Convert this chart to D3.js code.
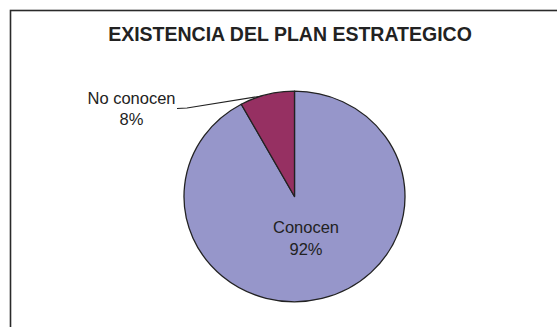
<!DOCTYPE html>
<html>
<head>
<meta charset="utf-8">
<script src="https://cdn.jsdelivr.net/npm/d3@7"></script>
<style>
  html, body { margin: 0; padding: 0; background: #fff; }
  svg { display: block; }
  text { font-family: "Liberation Sans", Arial, sans-serif; fill: #222; }
</style>
</head>
<body>
<svg id="chart" width="557" height="327"></svg>
<script>
// Survey answers: does the staff know the strategic plan?
const categories = ["Conocen", "No conocen"];
const values = [92, 8];
const colors = ["#9696CA", "#963062"];
const title = "EXISTENCIA DEL PLAN ESTRATEGICO";

const svg = d3.select("#chart");

// Chart frame (runs past the right and bottom edges)
svg.append("rect")
  .attr("x", 10.5).attr("y", 10.5)
  .attr("width", 600).attr("height", 400)
  .attr("fill", "#fff")
  .attr("stroke", "#2a2a2a")
  .attr("stroke-width", 1.6);

svg.append("text")
  .attr("x", 290).attr("y", 41)
  .attr("text-anchor", "middle")
  .attr("font-size", 19.5)
  .attr("font-weight", "bold")
  .text(title);

const cx = 294.5, cy = 196.5, ry = 105.3, rx = 110.5;
const sx = rx / ry;

const data = categories.map((c, i) => ({ name: c, value: values[i], color: colors[i] }));
const pie = d3.pie().sort(null).value(d => d.value);
const arcs = pie(data);
const arc = d3.arc().innerRadius(0).outerRadius(ry);
const total = d3.sum(values);

const g = svg.append("g").attr("transform", `translate(${cx},${cy}) scale(${sx},1)`);
g.selectAll("path")
  .data(arcs)
  .join("path")
  .attr("d", arc)
  .attr("fill", d => d.data.color)
  .attr("stroke", "#222")
  .attr("stroke-width", 1.3)
  .attr("vector-effect", "non-scaling-stroke")
  .attr("stroke-linejoin", "round");

// Position on the (slightly elliptical) pie for a given angle and radius fraction
function pt(angle, f) {
  return [cx + Math.sin(angle) * rx * f, cy - Math.cos(angle) * ry * f];
}

const fmt = d => Math.round(d.data.value / total * 100) + "%";

// Large slice: label inside
const big = arcs[0];
const bigPos = [306, 232.5];
const tBig = svg.append("text")
  .attr("x", bigPos[0]).attr("y", bigPos[1])
  .attr("text-anchor", "middle")
  .attr("font-size", 16.5);
tBig.append("tspan").attr("x", bigPos[0]).attr("dy", 0).text(big.data.name);
tBig.append("tspan").attr("x", bigPos[0]).attr("dy", 22.5).text(fmt(big));

// Small slice: label outside with leader line
const small = arcs[1];
const mid = (small.startAngle + small.endAngle) / 2 - 0.05;
const edge = pt(mid, 1.0);
svg.append("polyline")
  .attr("points", [[177, 108.5], [187, 108], edge].map(p => p.join(",")).join(" "))
  .attr("fill", "none")
  .attr("stroke", "#222")
  .attr("stroke-width", 1.1);

const smallPos = [131.5, 104];
const tSmall = svg.append("text")
  .attr("x", smallPos[0]).attr("y", smallPos[1])
  .attr("text-anchor", "middle")
  .attr("font-size", 16.5);
tSmall.append("tspan").attr("x", smallPos[0]).attr("dy", 0).text(small.data.name);
tSmall.append("tspan").attr("x", smallPos[0]).attr("dy", 20.5).text(fmt(small));
</script>
</body>
</html>
